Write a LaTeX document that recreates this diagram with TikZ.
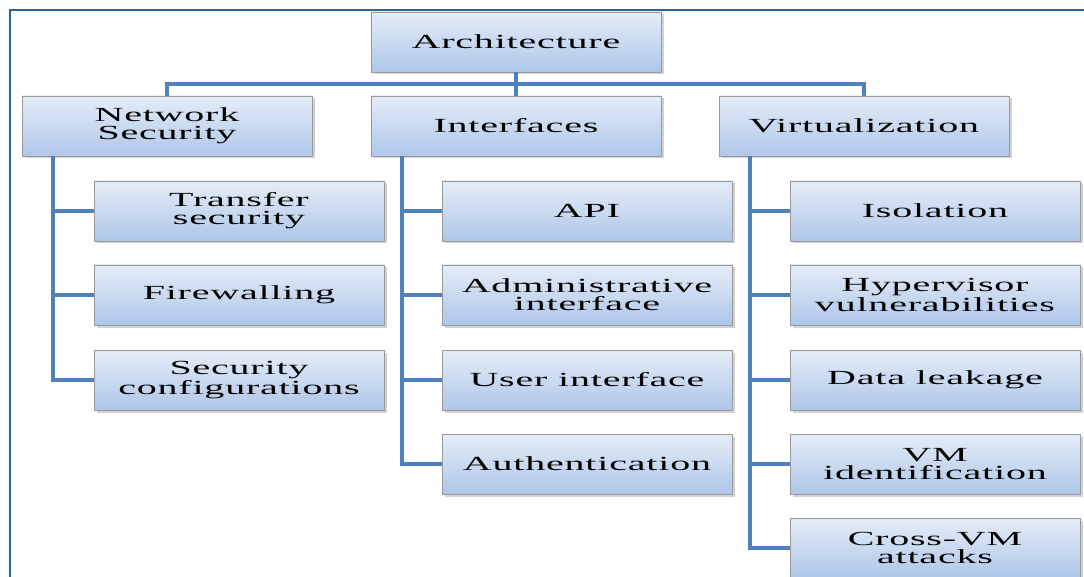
\documentclass[tikz,border=0pt]{standalone}
\usepackage{fontspec}
\setmainfont{Liberation Serif}[FakeStretch=2.0,LetterSpace=4]
\usepackage{tikz}
\usetikzlibrary{shadows}
\definecolor{Boxtop}{RGB}{229,237,248}
\definecolor{Boxbottom}{RGB}{174,198,232}
\definecolor{Linkblue}{RGB}{79,129,189}
\definecolor{Frameblue}{RGB}{46,100,150}

\begin{document}
\begin{tikzpicture}[x=1pt,y=-1pt,
  box/.style={draw=gray!80,line width=0.8pt,top color=Boxtop,bottom color=Boxbottom,
    minimum width=290pt,minimum height=60pt,inner sep=0pt,align=center,
    font=\fontsize{20}{18}\selectfont,
    drop shadow={shadow xshift=2.5pt,shadow yshift=-2.5pt,fill=gray!70}},
  link/.style={Linkblue,line width=4pt}]
\useasboundingbox (0,0) rectangle (1084,577);
\draw[Frameblue,line width=1.2pt] (10,577)--(10,10)--(1084,10);
\node[box] (arch) at (516,42) {Architecture};
\node[box] (ns) at (167,126) {Network\\Security};
\node[box] (ifc) at (516,126) {Interfaces};
\node[box] (virt) at (864,126) {Virtualization};
\node[box] (tsec) at (239,211) {Transfer\\security};
\node[box] (fw) at (239,295) {Firewalling};
\node[box] (scfg) at (239,380) {Security\\configurations};
\node[box] (api) at (587,211) {API};
\node[box] (admin) at (587,295) {Administrative\\interface};
\node[box] (ui) at (587,380) {User interface};
\node[box] (auth) at (587,464) {Authentication};
\node[box] (iso) at (935,211) {Isolation};
\node[box] (hyp) at (935,295) {Hypervisor\\vulnerabilities};
\node[box] (leak) at (935,380) {Data leakage};
\node[box] (vmid) at (935,464) {VM\\identification};
\node[box] (xvm) at (935,548) {Cross-VM\\attacks};
% connectors
\coordinate (bus) at (516,84);
\draw[link] (arch.south) -- (bus);
\draw[link] (ns.north) |- (bus) -| (virt.north);
\draw[link] (bus) -- (ifc.north);
\foreach \c in {tsec,fw,scfg}
  \draw[link] ([xshift=31pt]ns.south west) |- (\c.west);
\foreach \c in {api,admin,ui,auth}
  \draw[link] ([xshift=31pt]ifc.south west) |- (\c.west);
\foreach \c in {iso,hyp,leak,vmid,xvm}
  \draw[link] ([xshift=31pt]virt.south west) |- (\c.west);
\end{tikzpicture}
\end{document}
